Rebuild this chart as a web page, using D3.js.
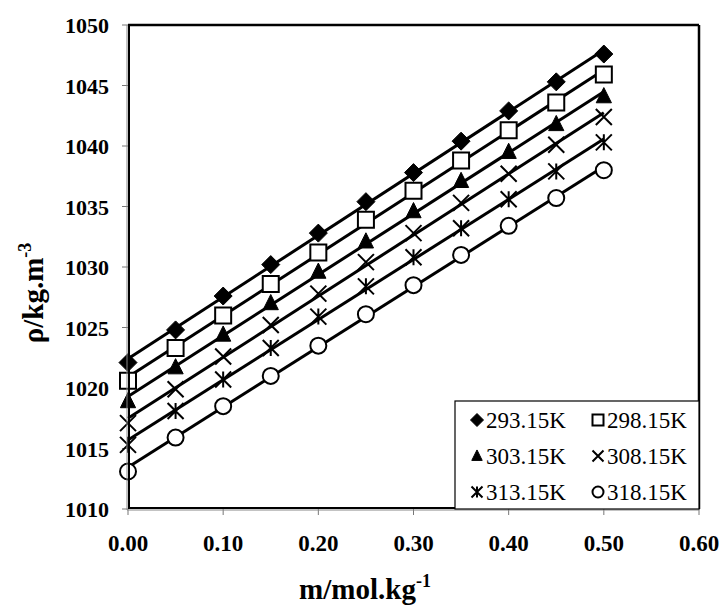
<html>
<head>
  <script src="https://d3js.org/d3.v7.min.js" charset="utf-8"></script>
  <style>
    body { margin: 0; background: #fff; }
    text { font-family: "Liberation Serif", "Times New Roman", serif; }
  </style>
</head>
<body>
<script>
  var width = 721,
      height = 605;

  // molality m / mol.kg-1
  var molality = [0.00, 0.05, 0.10, 0.15, 0.20, 0.25, 0.30, 0.35, 0.40, 0.45, 0.50];

  // density rho / kg.m-3, one array per temperature
  var temps = ["293.15K", "298.15K", "303.15K", "308.15K", "313.15K", "318.15K"];
  var rho293 = [1022.1, 1024.8, 1027.6, 1030.2, 1032.8, 1035.4, 1037.8, 1040.4, 1042.9, 1045.3, 1047.6];
  var rho298 = [1020.6, 1023.3, 1026.0, 1028.6, 1031.2, 1033.9, 1036.3, 1038.8, 1041.3, 1043.6, 1045.9];
  var rho303 = [1018.9, 1021.7, 1024.4, 1027.0, 1029.6, 1032.1, 1034.6, 1037.1, 1039.5, 1041.8, 1044.1];
  var rho308 = [1017.1, 1019.9, 1022.6, 1025.2, 1027.8, 1030.4, 1032.8, 1035.3, 1037.7, 1040.1, 1042.4];
  var rho313 = [1015.3, 1018.1, 1020.7, 1023.3, 1025.9, 1028.4, 1030.8, 1033.2, 1035.6, 1037.9, 1040.3];
  var rho318 = [1013.1, 1015.9, 1018.5, 1021.0, 1023.5, 1026.1, 1028.5, 1031.0, 1033.4, 1035.7, 1038.0];
  var allRho = [rho293, rho298, rho303, rho308, rho313, rho318];
  var markers = ["diamond", "square", "triangle", "cross", "star", "circle"];

  var xTicks = [0, 0.1, 0.2, 0.3, 0.4, 0.5, 0.6];
  var yTicks = [1010, 1015, 1020, 1025, 1030, 1035, 1040, 1045, 1050];

  var pLeft = 128, pTop = 25, pRight = 699, pBottom = 509;

  var svg = d3.select("body").append("svg")
      .attr("width", width)
      .attr("height", height);

  var x = d3.scaleLinear().domain([0, 0.6]).range([pLeft, pRight]);
  var y = d3.scaleLinear().domain([1010, 1050]).range([pBottom, pTop]);

  // marker path, centred on 0,0
  function markerPath(kind, s) {
    var h = s / 2;
    if (kind == "diamond") return "M0," + (-h) + "L" + h + ",0L0," + h + "L" + (-h) + ",0Z";
    if (kind == "square") return "M" + (-h) + "," + (-h) + "h" + s + "v" + s + "h" + (-s) + "Z";
    if (kind == "triangle") return "M0," + (-h * 1.1) + "L" + (h * 0.95) + "," + (h * 0.8) + "L" + (-h * 0.95) + "," + (h * 0.8) + "Z";
    if (kind == "cross") return "M" + (-h) + "," + (-h) + "L" + h + "," + h + "M" + h + "," + (-h) + "L" + (-h) + "," + h;
    if (kind == "star") return "M" + (-h) + "," + (-h) + "L" + h + "," + h + "M" + h + "," + (-h) + "L" + (-h) + "," + h + "M0," + (-h) + "L0," + h;
    if (kind == "circle") return "M" + h + ",0A" + h + "," + h + " 0 1,1 " + (-h) + ",0A" + h + "," + h + " 0 1,1 " + h + ",0Z";
  }
  function styleMarker(sel, kind) {
    var filled = (kind == "diamond" || kind == "triangle");
    sel.attr("fill", filled ? "#000" : (kind == "cross" || kind == "star" ? "none" : "#fff"))
       .attr("stroke", "#000")
       .attr("stroke-width", filled ? 1 : 2);
  }

  // ticks
  svg.append("g").selectAll("line").data(yTicks).enter().append("line")
      .attr("x1", pLeft - 6).attr("x2", pLeft)
      .attr("y1", function(d) { return y(d); }).attr("y2", function(d) { return y(d); })
      .attr("stroke", "#777").attr("stroke-width", 1);
  svg.append("g").selectAll("line").data(xTicks).enter().append("line")
      .attr("x1", function(d) { return x(d); }).attr("x2", function(d) { return x(d); })
      .attr("y1", pBottom).attr("y2", pBottom + 6)
      .attr("stroke", "#777").attr("stroke-width", 1);

  // tick labels
  svg.append("g").selectAll("text").data(yTicks).enter().append("text")
      .attr("x", pLeft - 19)
      .attr("y", function(d) { return y(d) + 8; })
      .attr("text-anchor", "end")
      .attr("font-size", 22).attr("font-weight", "bold")
      .text(function(d) { return d; });
  svg.append("g").selectAll("text").data(xTicks).enter().append("text")
      .attr("x", function(d) { return x(d); })
      .attr("y", pBottom + 42)
      .attr("text-anchor", "middle")
      .attr("font-size", 23).attr("font-weight", "bold")
      .text(function(d) { return d3.format(".2f")(d); });

  // trend lines (least squares, like the spreadsheet trendline)
  allRho.forEach(function(vals) {
    var mx = d3.mean(molality), my = d3.mean(vals);
    var b = d3.sum(molality, function(m, i) { return (m - mx) * (vals[i] - my); }) /
            d3.sum(molality, function(m) { return (m - mx) * (m - mx); });
    var a = my - b * mx;
    var m0 = molality[0], m1 = molality[molality.length - 1];
    svg.append("line")
       .attr("x1", x(m0)).attr("y1", y(a + b * m0))
       .attr("x2", x(m1)).attr("y2", y(a + b * m1))
       .attr("stroke", "#000").attr("stroke-width", 3);
  });

  // markers
  allRho.forEach(function(vals, k) {
    var g = svg.append("g");
    g.selectAll("path").data(vals).enter().append("path")
      .attr("transform", function(d, i) { return "translate(" + x(molality[i]) + "," + y(d) + ")"; })
      .attr("d", markerPath(markers[k], markers[k] == "diamond" ? 18 : 16))
      .call(styleMarker, markers[k]);
  });

  // frame
  svg.append("line").attr("x1", pLeft).attr("x2", pRight).attr("y1", pTop).attr("y2", pTop)
      .attr("stroke", "#000").attr("stroke-width", 2.5);
  svg.append("line").attr("x1", pRight).attr("x2", pRight).attr("y1", pTop).attr("y2", pBottom)
      .attr("stroke", "#000").attr("stroke-width", 2.5);
  svg.append("line").attr("x1", pLeft - 1).attr("x2", pLeft - 1).attr("y1", pTop).attr("y2", pBottom + 1)
      .attr("stroke", "#888").attr("stroke-width", 1);
  svg.append("line").attr("x1", pLeft + 1).attr("x2", pLeft + 1).attr("y1", pTop).attr("y2", pBottom)
      .attr("stroke", "#000").attr("stroke-width", 2);
  svg.append("line").attr("x1", pLeft - 1).attr("x2", pRight).attr("y1", pBottom + 1).attr("y2", pBottom + 1)
      .attr("stroke", "#888").attr("stroke-width", 1);
  svg.append("line").attr("x1", pLeft).attr("x2", pRight).attr("y1", pBottom - 1).attr("y2", pBottom - 1)
      .attr("stroke", "#000").attr("stroke-width", 2);

  // legend
  var lg = svg.append("g");
  lg.append("rect").attr("x", 455).attr("y", 401).attr("width", pRight - 455).attr("height", pBottom - 401)
      .attr("fill", "#fff").attr("stroke", "#000").attr("stroke-width", 1.2);
  temps.forEach(function(t, k) {
    var col = k % 2, row = Math.floor(k / 2);
    var mxp = col == 0 ? 477 : 598;
    var myp = 420 + row * 36;
    lg.append("path")
      .attr("transform", "translate(" + mxp + "," + myp + ")")
      .attr("d", markerPath(markers[k], markers[k] == "diamond" ? 13 : 11))
      .call(styleMarker, markers[k]);
    lg.append("text")
      .attr("x", mxp + 9).attr("y", myp + 8)
      .attr("font-size", 23)
      .text(t);
  });

  // axis titles
  var yl = svg.append("text")
      .attr("transform", "translate(43,293) rotate(-90)")
      .attr("text-anchor", "middle")
      .attr("font-size", 29).attr("font-weight", "bold");
  yl.append("tspan").text("\u03c1/kg.m");
  yl.append("tspan").attr("font-size", 18).attr("dy", -12).text("-3");

  var xl = svg.append("text")
      .attr("x", 365).attr("y", 599)
      .attr("text-anchor", "middle")
      .attr("font-size", 29).attr("font-weight", "bold");
  xl.append("tspan").text("m/mol.kg");
  xl.append("tspan").attr("font-size", 18).attr("dy", -12).text("-1");
</script>
</body>
</html>
